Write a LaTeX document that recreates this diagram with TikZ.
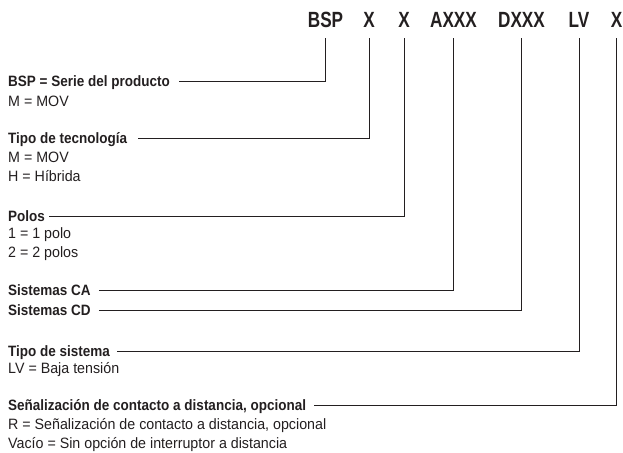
\documentclass[tikz,border=0pt]{standalone}
\usepackage{fontspec}
\setmainfont{Liberation Sans}
\newfontfamily\hdrfont[FakeStretch=0.78]{Liberation Sans}
\newfontfamily\lblfont[FakeStretch=0.9]{Liberation Sans}
\newfontfamily\subfont[FakeStretch=0.95]{Liberation Sans}
\definecolor{ink}{HTML}{231F20}
\begin{document}
\begin{tikzpicture}[x=1pt,y=-1pt,
  hdr/.style={font=\hdrfont\bfseries\fontsize{22}{26}\selectfont, text=ink, inner sep=0pt, anchor=base},
  lbl/.style={font=\lblfont\bfseries\fontsize{15}{18}\selectfont, text=ink, inner sep=0pt, anchor=west, text height=10.5pt, text depth=0pt},
  sub/.style={font=\subfont\fontsize{15}{18}\selectfont, text=ink, inner sep=0pt, anchor=base west},
  conn/.style={draw=ink, line width=1pt}]
\useasboundingbox (0,0) rectangle (623,452);
\coordinate (top) at (0,38);
% header
\node[hdr] (hBSP) at (325.5,28) {BSP};
\node[hdr] (hX1) at (369,28) {X};
\node[hdr] (hX2) at (404,28) {X};
\node[hdr] (hA) at (453.5,28) {AXXX};
\node[hdr] (hD) at (521.5,28) {DXXX};
\node[hdr] (hLV) at (579,28) {LV};
\node[hdr] (hX3) at (616.5,28) {X};
% labels
\node[lbl] (lBSP) at (8,81) {BSP = Serie del producto};
\node[sub] (sBSP1) at (8,106) {M = MOV};
\node[lbl] (lTec) at (8,138) {Tipo de tecnología};
\node[sub] (sTec1) at (8,162) {M = MOV};
\node[sub] (sTec2) at (8,181) {H = Híbrida};
\node[lbl] (lPol) at (8,216) {Polos};
\node[sub] (sPol1) at (8,238) {1 = 1 polo};
\node[sub] (sPol2) at (8,257) {2 = 2 polos};
\node[lbl] (lCA) at (8,290) {Sistemas CA};
\node[lbl] (lCD) at (8,310) {Sistemas CD};
\node[lbl] (lSis) at (8,351) {Tipo de sistema};
\node[sub] (sSis1) at (8,373) {LV = Baja tensión};
\node[lbl] (lSen) at (8,405) {Señalización de contacto a distancia, opcional};
\node[sub] (sSen1) at (8,429) {R = Señalización de contacto a distancia, opcional};
\node[sub] (sSen2) at (8,448) {Vacío = Sin opción de interruptor a distancia};
% connectors
\draw[conn] ([xshift=9pt]lBSP.east) -| (hBSP |- top);
\draw[conn] ([xshift=11pt]lTec.east) -| (hX1 |- top);
\draw[conn] ([xshift=4pt]lPol.east) -| (hX2 |- top);
\draw[conn] ([xshift=8pt]lCA.east) -| (hA |- top);
\draw[conn] ([xshift=8pt]lCD.east) -| (hD |- top);
\draw[conn] ([xshift=7pt]lSis.east) -| (hLV |- top);
\draw[conn] ([xshift=8pt]lSen.east) -| (hX3 |- top);
\end{tikzpicture}
\end{document}
